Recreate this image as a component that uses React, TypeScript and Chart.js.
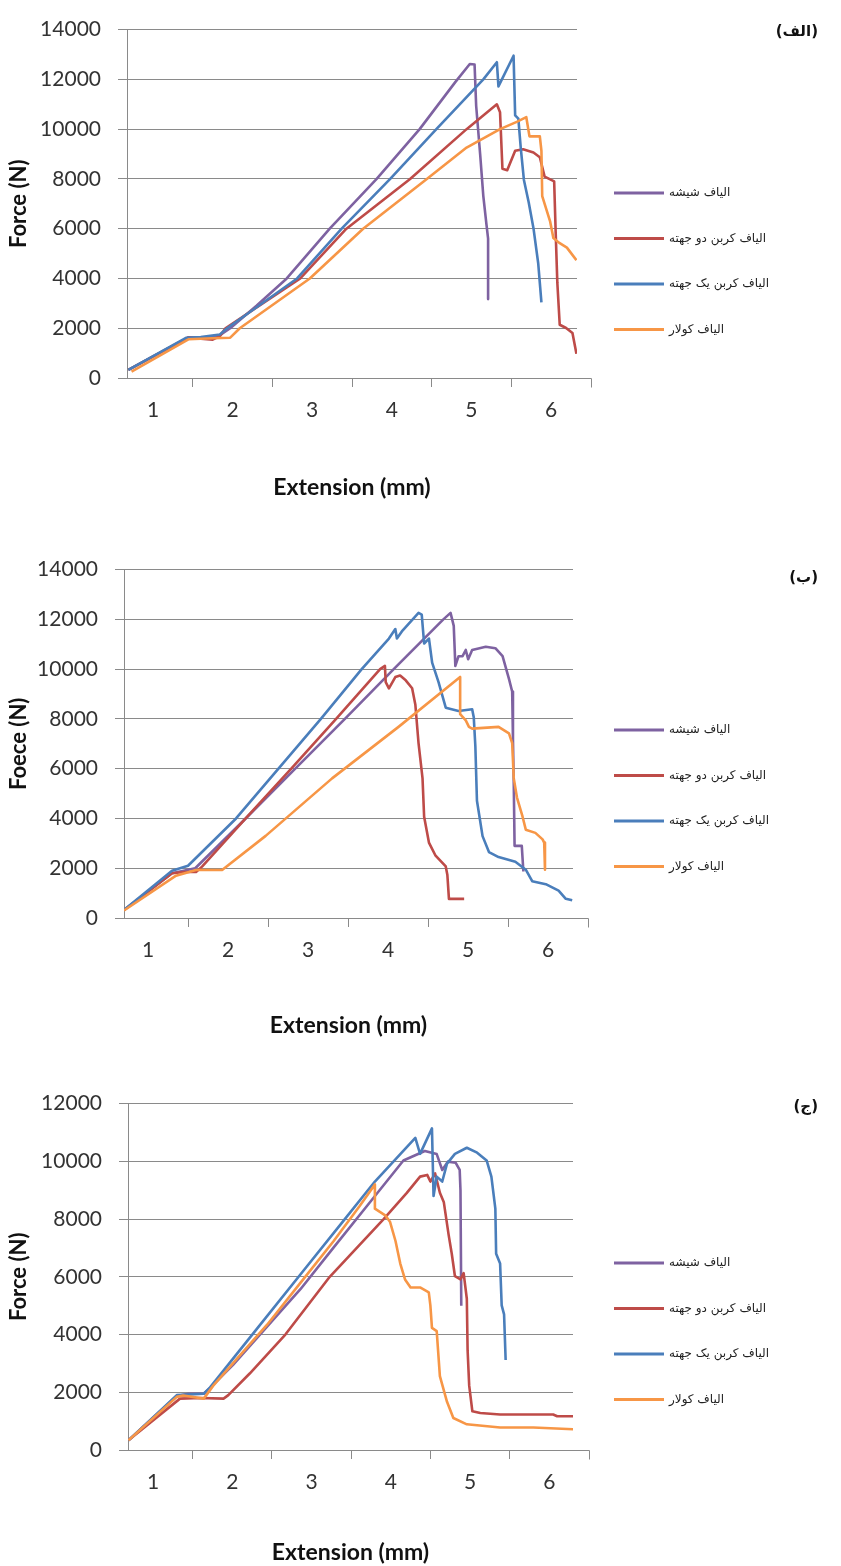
import React, { useEffect, useRef } from 'react';
import { Chart, registerables } from 'chart.js';

Chart.register(...registerables);

// ---------- Series labels / colours / ticks ----------
const seriesLabels = ['الیاف شیشه', 'الیاف کربن دو جهته', 'الیاف کربن یک جهته', 'الیاف کولار'];
const seriesColors = ['#7E62A1', '#BE4B48', '#4A7EBB', '#F79646'];
const xTickLabels = [1, 2, 3, 4, 5, 6];
const xTickMarks = [1.5, 2.5, 3.5, 4.5, 5.5, 6.5];
const yStep = 2000;
const yMaxes = [14000, 14000, 12000];
const panelLetters = ['(الف)', '(ب)', '(ج)'];
const yTitles = ['Force (N)', 'Foece (N)', 'Force (N)'];
const xTitle = 'Extension (mm)';

// ---------- Panel 1 (الف) ----------
const p1GlassX = [0.69, 1.45, 1.62, 1.84, 1.97, 2.3, 2.68, 3.22, 3.81, 4.35, 4.8, 4.98, 5.04, 5.06, 5.11, 5.15, 5.19, 5.21, 5.21];
const p1GlassY = [330, 1640, 1620, 1720, 2000, 2900, 4000, 6000, 8000, 10000, 11900, 12620, 12600, 10940, 9000, 7310, 6150, 5600, 3170];
const p1CarbonBiX = [0.69, 1.45, 1.6, 1.75, 1.84, 1.91, 2.85, 3.43, 4.23, 4.94, 5.32, 5.36, 5.39, 5.45, 5.55, 5.65, 5.78, 5.86, 5.92, 6.04, 6.06, 6.08, 6.11, 6.19, 6.27, 6.32];
const p1CarbonBiY = [330, 1640, 1580, 1540, 1680, 2000, 4000, 6000, 8000, 10000, 11000, 10680, 8410, 8350, 9130, 9190, 9060, 8870, 8090, 7900, 5760, 3820, 2140, 2010, 1810, 970];
const p1CarbonUniX = [0.69, 1.42, 1.6, 1.84, 1.93, 2.81, 3.37, 3.98, 4.56, 5.15, 5.32, 5.34, 5.53, 5.55, 5.59, 5.62, 5.66, 5.72, 5.78, 5.84, 5.88];
const p1CarbonUniY = [330, 1620, 1650, 1750, 2000, 4000, 6000, 8000, 10000, 12000, 12690, 11720, 12950, 10550, 10420, 9260, 7960, 7060, 6020, 4600, 3040];
const p1KevlarX = [0.73, 1.45, 1.75, 1.97, 2.09, 2.97, 3.64, 4.44, 4.94, 5.36, 5.57, 5.69, 5.73, 5.86, 5.88, 5.89, 5.99, 6.03, 6.1, 6.2, 6.32];
const p1KevlarY = [260, 1560, 1600, 1620, 2000, 4000, 6000, 8000, 9260, 10000, 10290, 10480, 9710, 9710, 9130, 7310, 6280, 5630, 5440, 5240, 4730];

// ---------- Panel 2 (ب) ----------
const p2GlassX = [0.7, 1.3, 1.59, 2.22, 2.84, 3.46, 4.07, 4.69, 4.78, 4.82, 4.84, 4.88, 4.93, 4.97, 5.0, 5.05, 5.22, 5.34, 5.43, 5.51, 5.55, 5.56, 5.57, 5.58, 5.67, 5.69];
const p2GlassY = [320, 1800, 2000, 4000, 6000, 8000, 10000, 12000, 12260, 11740, 10130, 10520, 10520, 10770, 10400, 10770, 10900, 10840, 10520, 9610, 9100, 7160, 5360, 2900, 2900, 1870];
const p2CarbonBiX = [0.7, 1.3, 1.45, 1.6, 1.675, 2.22, 2.79, 3.35, 3.9, 3.96, 3.97, 4.01, 4.09, 4.15, 4.22, 4.3, 4.34, 4.38, 4.43, 4.45, 4.51, 4.59, 4.72, 4.74, 4.76, 4.95];
const p2CarbonBiY = [320, 1800, 1850, 1850, 2065, 4000, 6000, 8000, 10000, 10130, 9480, 9230, 9680, 9740, 9550, 9230, 8580, 7030, 5610, 4070, 3030, 2520, 2070, 1740, 770, 770];
const p2CarbonUniX = [0.7, 1.3, 1.5, 2.1, 2.63, 3.16, 3.67, 4.01, 4.09, 4.11, 4.18, 4.38, 4.42, 4.45, 4.51, 4.55, 4.63, 4.72, 4.88, 5.05, 5.07, 5.09, 5.11, 5.18, 5.26, 5.38, 5.59, 5.72, 5.8, 5.97, 6.13, 6.22, 6.3];
const p2CarbonUniY = [320, 1900, 2100, 4000, 6000, 8000, 10000, 11230, 11610, 11230, 11550, 12260, 12190, 11030, 11230, 10260, 9480, 8450, 8320, 8390, 8070, 6900, 4710, 3290, 2650, 2450, 2260, 1940, 1480, 1360, 1100, 770, 710];
const p2KevlarX = [0.7, 1.35, 1.6, 1.93, 2.47, 3.3, 4.13, 4.9, 4.9, 4.97, 5.01, 5.05, 5.38, 5.51, 5.55, 5.57, 5.61, 5.68, 5.72, 5.84, 5.93, 5.95, 5.96];
const p2KevlarY = [300, 1700, 1930, 1935, 3300, 5610, 7680, 9680, 8190, 7940, 7680, 7610, 7680, 7420, 7030, 5610, 4840, 4070, 3550, 3420, 3160, 3030, 1940];

// ---------- Panel 3 (ج) ----------
const p3GlassX = [0.69, 1.3, 1.45, 1.64, 1.72, 2.01, 2.86, 3.28, 3.74, 4.16, 4.43, 4.58, 4.65, 4.72, 4.82, 4.87, 4.88, 4.89];
const p3GlassY = [334, 1870, 1950, 1950, 2150, 2950, 5570, 7020, 8590, 10030, 10360, 10250, 9700, 9990, 9950, 9700, 9000, 5000];
const p3CarbonBiX = [0.69, 1.34, 1.6, 1.89, 1.95, 2.22, 2.67, 3.23, 3.91, 4.2, 4.37, 4.46, 4.5, 4.56, 4.62, 4.67, 4.73, 4.77, 4.81, 4.88, 4.92, 4.96, 4.97, 4.99, 5.03, 5.13, 5.38, 5.8, 6.05, 6.1, 6.31];
const p3CarbonBiY = [334, 1780, 1800, 1780, 1900, 2650, 4000, 6000, 8000, 8900, 9470, 9530, 9300, 9580, 8910, 8580, 7460, 6800, 6020, 5910, 6130, 5240, 3450, 2230, 1340, 1280, 1230, 1230, 1230, 1170, 1170];
const p3CarbonUniX = [0.69, 1.3, 1.64, 1.72, 2.3, 2.9, 3.4, 3.8, 4.31, 4.37, 4.52, 4.54, 4.58, 4.65, 4.71, 4.81, 4.96, 5.09, 5.21, 5.27, 5.32, 5.33, 5.38, 5.4, 5.43, 5.45];
const p3CarbonUniY = [334, 1900, 1950, 2170, 4160, 6220, 7930, 9300, 10810, 10260, 11140, 8800, 9470, 9300, 9920, 10260, 10470, 10300, 10030, 9470, 8360, 6800, 6460, 5010, 4700, 3120];
const p3KevlarX = [0.69, 1.3, 1.38, 1.64, 1.76, 2.01, 2.44, 2.86, 3.28, 3.61, 3.8, 3.8, 3.93, 3.99, 4.06, 4.12, 4.18, 4.25, 4.37, 4.48, 4.5, 4.52, 4.58, 4.62, 4.71, 4.79, 4.96, 5.38, 5.8, 6.31];
const p3KevlarY = [334, 1840, 1890, 1780, 2230, 3010, 4340, 5790, 7240, 8460, 9200, 8360, 8130, 7910, 7240, 6460, 5910, 5630, 5630, 5460, 5010, 4230, 4120, 2560, 1670, 1110, 890, 780, 780, 720];

const panelSeries = [
  [[p1GlassX, p1GlassY], [p1CarbonBiX, p1CarbonBiY], [p1CarbonUniX, p1CarbonUniY], [p1KevlarX, p1KevlarY]],
  [[p2GlassX, p2GlassY], [p2CarbonBiX, p2CarbonBiY], [p2CarbonUniX, p2CarbonUniY], [p2KevlarX, p2KevlarY]],
  [[p3GlassX, p3GlassY], [p3CarbonBiX, p3CarbonBiY], [p3CarbonUniX, p3CarbonUniY], [p3KevlarX, p3KevlarY]],
];

// ---------- Layout (page geometry) ----------
const PAGE_W = 841;
const GRID = '#8a8a8a';
const TEXT = '#333333';
const panelGeo = [
  { top: 0, height: 510, left: 127, right: 577, plotTop: 17, xAxisH: 132, xMin: 0.673, xMax: 6.327, titlePad: 9, legendTop: 193, letterY: 32 },
  { top: 540, height: 510, left: 124, right: 573, plotTop: 17, xAxisH: 132, xMin: 0.7, xMax: 6.31, titlePad: 11, legendTop: 190, letterY: 38 },
  { top: 1074, height: 492, left: 128, right: 573, plotTop: 17, xAxisH: 116, xMin: 0.684, xMax: 6.3, titlePad: 0, legendTop: 189, letterY: 33 },
];

function makeDecor(idx: number) {
  const geo = panelGeo[idx];
  return {
    id: 'decor' + idx,
    afterDraw(chart: any) {
      const { ctx, chartArea, scales } = chart;
      const xs = scales.x;
      ctx.save();
      // axis line continues to the last tick mark
      const last = xTickMarks[xTickMarks.length - 1];
      const ext = Math.round(xs.getPixelForValue(last)) + 0.5;
      const by = Math.round(chartArea.bottom) + 0.5;
      ctx.strokeStyle = GRID;
      ctx.lineWidth = 1;
      ctx.beginPath();
      ctx.moveTo(chartArea.right, by);
      ctx.lineTo(ext, by);
      ctx.moveTo(ext, by);
      ctx.lineTo(ext, by + 9);
      ctx.stroke();
      // legend
      const gap = 45.5;
      seriesLabels.forEach((lab, i) => {
        const y = geo.legendTop + i * gap;
        ctx.strokeStyle = seriesColors[i];
        ctx.lineWidth = 3;
        ctx.beginPath();
        ctx.moveTo(614, y);
        ctx.lineTo(664, y);
        ctx.stroke();
        ctx.fillStyle = '#222';
        ctx.font = '12px "DejaVu Sans"';
        ctx.textAlign = 'left';
        ctx.textBaseline = 'middle';
        ctx.fillText(lab, 669, y);
      });
      // panel letter
      ctx.fillStyle = '#111';
      ctx.font = 'bold 15px "DejaVu Sans"';
      ctx.textAlign = 'right';
      ctx.textBaseline = 'middle';
      ctx.fillText(panelLetters[idx], 818, geo.letterY);
      ctx.restore();
    },
  };
}

function Panel({ idx }: { idx: number }) {
  const ref = useRef<HTMLCanvasElement | null>(null);
  useEffect(() => {
    const geo = panelGeo[idx];
    const tickFont = { family: 'Lato', size: 21 };
    const yTitleFont = { family: 'Lato', size: 22, weight: 'bold' as const };
    const xTitleFont = { family: 'Lato', size: 23, weight: 'bold' as const };
    const datasets = panelSeries[idx].map(([xs, ys], i) => ({
      label: seriesLabels[i],
      data: xs.map((x, k) => ({ x, y: ys[k] })),
      borderColor: seriesColors[i],
      backgroundColor: seriesColors[i],
      borderWidth: 2.6,
      pointRadius: 0,
      tension: 0,
      fill: false,
      borderJoinStyle: 'round' as const,
      order: 3 - i,
    }));
    const chart = new Chart(ref.current as HTMLCanvasElement, {
      type: 'line',
      data: { datasets },
      options: {
        animation: false,
        responsive: false,
        events: [],
        layout: { padding: { top: geo.plotTop, right: PAGE_W - geo.right, left: 0, bottom: 0 } },
        plugins: { legend: { display: false }, tooltip: { enabled: false } },
        scales: {
          x: {
            type: 'linear',
            min: geo.xMin,
            max: geo.xMax,
            afterBuildTicks: (s: any) => {
              const vals = [...xTickLabels, ...xTickMarks].filter((v) => v >= geo.xMin && v <= geo.xMax).sort((a, b) => a - b);
              s.ticks = vals.map((v) => ({ value: v }));
            },
            afterFit: (s: any) => { s.height = geo.xAxisH; },
            ticks: {
              autoSkip: false,
              maxRotation: 0,
              padding: 11,
              color: TEXT,
              font: tickFont,
              callback: (v: any) => (xTickLabels.includes(Number(v)) ? String(v) : ''),
            },
            grid: {
              drawOnChartArea: false,
              drawTicks: true,
              tickLength: 9,
              color: GRID,
              tickColor: (c: any) => (c.tick && xTickLabels.includes(c.tick.value) ? 'rgba(0,0,0,0)' : GRID),
            },
            border: { display: true, color: GRID, width: 1 },
            title: { display: true, text: xTitle, color: '#111', font: xTitleFont, padding: { top: 0, bottom: geo.titlePad } },
          },
          y: {
            type: 'linear',
            min: 0,
            max: yMaxes[idx],
            afterFit: (s: any) => { s.width = geo.left; },
            ticks: { stepSize: yStep, padding: 17, color: TEXT, font: tickFont, callback: (v: any) => String(v) },
            grid: { color: GRID, lineWidth: 1, tickLength: 9, drawTicks: true },
            border: { display: true, color: GRID, width: 1 },
            title: { display: true, text: yTitles[idx], color: '#111', font: yTitleFont, padding: { top: 6, bottom: 0 } },
          },
        },
      },
      plugins: [makeDecor(idx)],
    } as any);
    return () => chart.destroy();
  }, [idx]);
  const geo = panelGeo[idx];
  return (
    <div style={{ position: 'absolute', left: 0, top: geo.top, width: PAGE_W, height: geo.height }}>
      <canvas ref={ref} width={PAGE_W} height={geo.height} style={{ width: PAGE_W, height: geo.height, display: 'block' }} />
    </div>
  );
}

export default function App() {
  return (
    <div style={{ position: 'absolute', left: 0, top: 0, width: PAGE_W, height: 1566, background: '#fff' }}>
      <Panel idx={0} />
      <Panel idx={1} />
      <Panel idx={2} />
    </div>
  );
}
